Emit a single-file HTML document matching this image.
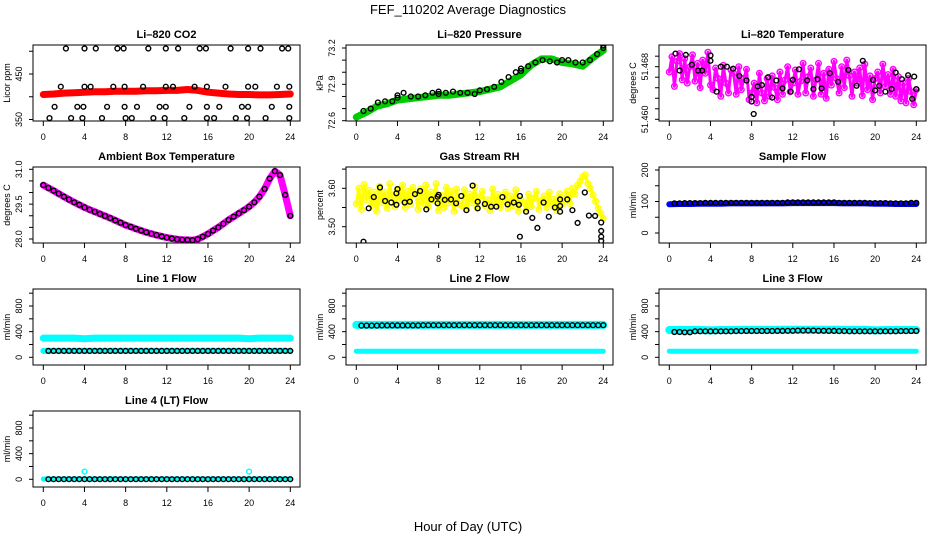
<!DOCTYPE html>
<html><head><meta charset="utf-8"><style>
body{margin:0;background:#fff}
svg{display:block;font-family:"Liberation Sans",sans-serif}
</style></head><body>
<svg id="chart" width="936" height="540" viewBox="0 0 936 540" xmlns="http://www.w3.org/2000/svg">
<rect x="0" y="0" width="936" height="540" fill="#fff"/>
<text x="468" y="14" text-anchor="middle" font-size="13">FEF_110202  Average Diagnostics</text>
<text x="468" y="531" text-anchor="middle" font-size="13">Hour of Day (UTC)</text>
</svg>
<script>
// ---- data ----
const xTicks=[0,4,8,12,16,20,24];
const hourly=[0,1,2,3,4,5,6,7,8,9,10,11,12,13,14,15,16,17,18,19,20,21,22,23,24];
const quarterHours=[];for(let i=0;i<=96;i++)quarterHours.push(i/4);
const halfHours=[];for(let i=0;i<=48;i++)halfHours.push(i/2);

const co2Red=[405,406,408,409,410,411,411,412,412,412,413,413,414,414,416,414,410,408,406,405,405,404,404,405,406];
const co2BlackHours=[2.2,4.0,5.1,7.2,7.8,10.2,11.9,13.1,15.2,15.8,18.2,19.9,21.1,23.2,23.8,
 1.7,4.0,4.6,6.8,7.9,9.7,11.9,12.6,14.7,15.9,17.7,19.9,20.6,22.7,23.9,
 1.1,3.3,3.9,6.2,7.9,9.1,11.3,11.9,14.2,15.9,17.1,19.3,19.9,22.2,23.9,
 0.6,2.7,3.8,5.7,8.0,8.6,10.7,11.8,13.7,15.9,16.6,18.7,19.8,21.6,23.9];
const co2BlackVals=[506,506,506,506,506,506,506,506,506,506,506,506,506,506,506,
 422,422,422,422,422,422,422,422,422,422,422,422,422,422,422,
 378,378,378,378,378,378,378,378,378,378,378,378,378,378,378,
 353,353,353,353,353,353,353,353,353,353,353,353,353,353,353];

const pressGreen=[72.63,72.67,72.72,72.74,72.77,72.78,72.79,72.80,72.81,72.81,72.82,72.83,72.84,72.86,72.88,72.93,72.98,73.06,73.11,73.11,73.08,73.07,73.05,73.12,73.18];
const pressBlackHours=[0.7,1.4,2.1,2.8,3.5,4.0,4.0,4.6,5.3,6.0,6.7,7.4,8.0,8.0,8.7,9.4,10.1,10.8,11.5,12.0,12.7,13.4,14.1,14.8,15.5,16.0,16.0,16.7,17.4,18.1,18.8,19.5,20.0,20.6,21.3,22.0,22.7,23.4,24.0,24.0];
const pressBlackVals=[72.68,72.70,72.75,72.76,72.76,72.81,72.79,72.83,72.80,72.80,72.81,72.83,72.84,72.82,72.83,72.84,72.83,72.83,72.82,72.85,72.86,72.88,72.92,72.96,73.00,73.03,73.01,73.05,73.08,73.10,73.09,73.08,73.10,73.10,73.08,73.08,73.10,73.15,73.20,73.22];

// Li-820 temperature, in units of 0.0001 degC above 51.460
const tempMagenta=[72,95,50,88,100,60,92,55,80,
 98,58,85,48,90,70,102,52, 45,78,62,35,82,55,40,75, 70,38,80,45,62,76,30,40,
 55,25,70,40,28,62,35,66, 48,30,72,38,60,80,42,55, 75,38,58,85,40,65,78,35,
 60,85,38,70,32,76,52,88, 62,40,80,48,90,66,35,72, 55,78,36,84,45,66,30,62,
 72,40,84,50,68,38,76,35, 65,28,55,25,62,42,22,45];
const tempBlackHours=[0.6,1.0,1.6,2.2,2.8,3.2,4.0,4.0,4.6,5.0,5.6,6.2,6.8,7.5,8.0,8.0,8.2,8.6,9.0,9.6,10.0,10.4,11.0,11.8,12.0,12.6,13.4,14.0,14.4,14.8,15.6,16.4,17.4,18.2,18.8,19.8,20.0,20.4,21.0,21.6,22.0,22.6,23.2,23.6,23.8,24.0];
const tempBlackVals=[100,74,98,83,74,74,97,89,42,80,80,77,66,59,34,27,8,50,52,64,33,59,47,42,60,76,59,46,61,47,70,57,75,51,89,60,44,51,42,46,71,61,67,31,65,46];

const ambient=[30.32,30.2,30.08,29.95,29.82,29.7,29.58,29.47,29.36,29.26,29.17,29.08,28.99,28.9,28.8,28.7,28.6,28.52,28.44,28.36,28.29,28.23,28.17,28.11,28.06,28.02,27.99,27.97,27.96,27.95,27.99,28.1,28.22,28.36,28.5,28.66,28.82,28.96,29.1,29.24,29.39,29.58,29.82,30.15,30.6,30.92,30.75,29.9,29.0];

// Gas stream RH, in units of 0.001 above 3.50
const rhYellow=[60,100,45,110,70,95,55,90,40,
 105,62,90,48,112,75,52,98, 68,108,50,92,58,102,85,45, 98,60,108,52,90,70,112,42,
 82,50,102,62,92,40,98,58, 55,96,45,85,62,104,48,78, 92,55,70,42,98,58,84,50,
 66,90,48,80,55,96,40,72, 62,42,85,52,74,92,45,68, 80,50,90,55,72,42,86,58,
 72,92,60,100,85,108,118,130, 135,112,100,82,66,48,35,22];
const rhBlackHours=[0.7,1.2,1.7,2.3,2.8,3.4,3.9,3.9,4.0,4.7,5.2,5.7,6.2,6.8,7.3,7.9,7.9,8.0,8.6,9.2,9.7,10.2,10.7,11.3,11.8,11.8,12.5,13.1,13.6,14.2,14.7,15.3,15.8,15.9,15.9,16.5,17.1,17.6,18.2,18.7,19.3,19.8,19.8,19.8,20.5,21.0,21.5,22.2,22.6,23.2,23.8,23.8,23.8,23.8];
const rhBlackVals=[-39,48,77,102,67,63,57,87,98,63,65,85,93,45,71,78,61,83,70,71,61,80,43,107,65,48,59,52,52,77,58,63,57,80,-26,39,23,-3,63,26,50,71,54,39,71,43,10,89,29,28,11,-11,-26,-37];

const sampleBlue=[91,92,92,93,93,93,94,94,94,94,94,94,95,95,95,95,95,94,94,94,93,93,92,92,92];
const sampleBlack=[92,94,95,95,96,96,96,96,96,96,96,96,97,97,97,97,97,96,96,96,95,95,94,94,96];

const line1High=[300,300,300,300,290,300,300,300,300,300,300,300,300,300,300,300,300,300,300,300,290,300,300,300,300];
const line1Low=[100,100,100,100,100,100,100,100,100,100,100,100,100,100,100,100,100,100,100,100,100,100,100,100,100];
const line1Black=[100,100,100,100,100,100,100,100,100,100,100,100,100,100,100,100,100,100,100,100,100,100,100,100,100];
const line2High=[505,505,505,505,505,505,505,505,505,505,505,505,505,505,505,505,505,505,505,505,505,505,505,505,505];
const line2Low=[95,95,95,95,95,95,95,95,95,95,95,95,95,95,95,95,95,95,95,95,95,95,95,95,95];
const line2Black=[495,495,495,497,498,498,498,500,500,500,500,500,500,500,500,500,500,500,500,500,500,500,500,500,500];
const line3High=[425,425,425,425,420,425,425,430,430,430,430,430,430,430,430,430,430,430,430,430,420,425,425,425,425];
const line3Low=[95,95,95,95,95,95,95,95,95,95,95,95,95,95,95,95,95,95,95,95,95,95,95,95,95];
const line3Black=[395,395,390,405,405,405,405,408,410,410,410,412,414,416,416,414,412,408,405,405,405,405,405,408,410];
const line4Cyan=[5,5,5,5,5,5,5,5,5,5,5,5,5,5,5,5,5,5,5,5,5,5,5,5,5];
const line4Black=[2,2,2,2,2,2,2,2,2,2,2,2,2,2,2,2,2,2,2,2,2,2,2,2,2];
const line4SpikeHours=[4,20];
const line4SpikeVals=[120,120];

// ---- layout ----
const NS="http://www.w3.org/2000/svg";
const svg=document.getElementById('chart');
const COLS=[33,346,659],ROWS=[45,167,289,411],PW=267,PH=76;
function mk(tag,attrs,parent){const e=document.createElementNS(NS,tag);for(const k in attrs)e.setAttribute(k,attrs[k]);(parent||svg).appendChild(e);return e;}

function panel(p){
  const L=COLS[p.col],T=ROWS[p.row];
  const g=mk('g',{});
  
  
  const xs=h=>L+10.3+h*247/24;
  const ys=v=>T+p.c[1]+(v-p.c[0])*(p.c[3]-p.c[1])/(p.c[2]-p.c[0]);
  const cid='clip'+p.name;
  const cp=mk('clipPath',{id:cid},g);mk('rect',{x:L,y:T,width:PW,height:PH},cp);
  const data=mk('g',{'clip-path':'url(#'+cid+')'},g);
  p.series.forEach(s=>{
    if(s.type==='line'){
      const pts=s.h.map((h,i)=>xs(h).toFixed(1)+','+ys(s.v[i]).toFixed(1)).join(' ');
      const pl=mk('polyline',{points:pts,fill:'none',stroke:s.color,'stroke-width':s.w,'stroke-linejoin':'round','stroke-linecap':'round'},data);
      
      
    } else {
      s.h.forEach((h,i)=>{
        const c=mk('circle',{cx:xs(h).toFixed(1),cy:ys(s.v[i]).toFixed(1),r:s.r||2.4,fill:'none',stroke:s.color,'stroke-width':1.4},data);
        
        
      });
    }
  });
  const box=mk('rect',{x:L,y:T,width:PW,height:PH,fill:'none',stroke:'#000','stroke-width':1},g);
  
  
  const tt=mk('text',{x:L+PW/2,y:T-7,'text-anchor':'middle','font-size':11,'font-weight':'bold'},g);
  tt.textContent=p.title;
  
  
  mk('line',{x1:xs(0),x2:xs(24),y1:T+PH,y2:T+PH,stroke:'#000'},g);
  xTicks.forEach(t=>{
    mk('line',{x1:xs(t),x2:xs(t),y1:T+PH,y2:T+PH+5,stroke:'#000'},g);
    const lb=mk('text',{x:xs(t),y:T+PH+19,'text-anchor':'middle','font-size':9},g);
    lb.textContent=t;
    
    
  });
  p.yt.forEach((t,i)=>{
    const y=ys(t);
    mk('line',{x1:L-4,x2:L,y1:y,y2:y,stroke:'#000'},g);
    if(p.yl[i]){
      const lb=mk('text',{x:L-11,y:y,'text-anchor':'middle','font-size':9,transform:'rotate(-90 '+(L-11)+' '+y+')'},g);
      lb.textContent=p.yl[i];
      
      
    }
  });
  const yl=mk('text',{x:L-23,y:T+PH/2,'text-anchor':'middle','font-size':9,transform:'rotate(-90 '+(L-23)+' '+(T+PH/2)+')'},g);
  yl.textContent=p.ylab;
  
  
}
const off=(arr,base,unit)=>arr.map(v=>base+v*unit);
const flowT=[0,200,400,600,800,1000],flowL=['0','','400','','800',''];

panel({name:'co2-panel',col:0,row:0,title:'Li\u2013820 CO2',ylab:'Licor ppm',c:[350,74.5,450,29],
 yt:[350,400,450,500],yl:['350','','450',''],
 series:[{type:'line',h:hourly,v:co2Red,color:'#ff0000',w:7,name:'co2-red-series'},
 {type:'pts',h:co2BlackHours,v:co2BlackVals,color:'#000',name:'co2-black-point'}]});
panel({name:'pressure-panel',col:1,row:0,title:'Li\u2013820 Pressure',ylab:'kPa',c:[72.6,75.7,73.2,3],
 yt:[72.6,72.7,72.8,72.9,73.0,73.1,73.2],yl:['72.6','','','72.9','','','73.2'],
 series:[{type:'line',h:hourly,v:pressGreen,color:'#00cc00',w:7,name:'pressure-green-series'},
 {type:'pts',h:pressBlackHours,v:pressBlackVals,color:'#000',name:'pressure-black-point'}]});
panel({name:'temperature-panel',col:2,row:0,title:'Li\u2013820 Temperature',ylab:'degrees C',c:[51.460,74.3,51.468,21.7],
 yt:[51.460,51.4616,51.4632,51.4648,51.4664,51.468,51.4696],yl:['51.460','','','','','51.468',''],
 series:[{type:'line',h:quarterHours,v:off(tempMagenta,51.460,0.0001),color:'#ff00ff',w:3,name:'temp-magenta-trace'},
 {type:'pts',h:quarterHours,v:off(tempMagenta,51.460,0.0001),color:'#ff00ff',r:2.8,name:'temp-magenta-point'},
 {type:'pts',h:tempBlackHours,v:off(tempBlackVals,51.460,0.0001),color:'#000',name:'temp-black-point'}]});
panel({name:'ambient-panel',col:0,row:1,title:'Ambient Box Temperature',ylab:'degrees C',c:[28,72,31,2.3],
 yt:[28,28.5,29,29.5,30,30.5,31],yl:['28.0','','','29.5','','','31.0'],
 series:[{type:'line',h:halfHours,v:ambient,color:'#ff00ff',w:7,name:'ambient-magenta-series'},
 {type:'pts',h:halfHours,v:ambient,color:'#000',name:'ambient-black-point'}]});
panel({name:'rh-panel',col:1,row:1,title:'Gas Stream RH',ylab:'percent',c:[3.50,59.7,3.60,21.3],
 yt:[3.50,3.55,3.60,3.65],yl:['3.50','','3.60',''],
 series:[{type:'line',h:quarterHours,v:off(rhYellow,3.5,0.001),color:'#ffff00',w:3,name:'rh-yellow-trace'},
 {type:'pts',h:quarterHours,v:off(rhYellow,3.5,0.001),color:'#ffff00',r:2.8,name:'rh-yellow-point'},
 {type:'pts',h:rhBlackHours,v:off(rhBlackVals,3.5,0.001),color:'#000',name:'rh-black-point'}]});
panel({name:'sample-flow-panel',col:2,row:1,title:'Sample Flow',ylab:'ml/min',c:[0,66,200,3],
 yt:[0,50,100,150,200],yl:['0','','100','','200'],
 series:[{type:'line',h:hourly,v:sampleBlue,color:'#0000ff',w:6,name:'sample-blue-series'},
 {type:'pts',h:halfHours.slice(1),v:halfHours.slice(1).map(h=>sampleBlack[Math.round(h)]),color:'#000',name:'sample-black-point'}]});
panel({name:'line1-panel',col:0,row:2,title:'Line 1 Flow',ylab:'ml/min',c:[0,68.3,800,17],yt:flowT,yl:flowL,
 series:[{type:'line',h:hourly,v:line1High,color:'#00ffff',w:7,name:'line1-high-series'},
 {type:'line',h:hourly,v:line1Low,color:'#00ffff',w:6,name:'line1-low-series'},
 {type:'pts',h:halfHours.slice(1),v:halfHours.slice(1).map(h=>line1Black[Math.round(h)]),color:'#000',name:'line1-black-point'}]});
panel({name:'line2-panel',col:1,row:2,title:'Line 2 Flow',ylab:'ml/min',c:[0,68.3,800,17],yt:flowT,yl:flowL,
 series:[{type:'line',h:hourly,v:line2High,color:'#00ffff',w:8,name:'line2-high-series'},
 {type:'line',h:hourly,v:line2Low,color:'#00ffff',w:5,name:'line2-low-series'},
 {type:'pts',h:halfHours.slice(1),v:halfHours.slice(1).map(h=>line2Black[Math.round(h)]),color:'#000',name:'line2-black-point'}]});
panel({name:'line3-panel',col:2,row:2,title:'Line 3 Flow',ylab:'ml/min',c:[0,68.3,800,17],yt:flowT,yl:flowL,
 series:[{type:'line',h:hourly,v:line3High,color:'#00ffff',w:8,name:'line3-high-series'},
 {type:'line',h:hourly,v:line3Low,color:'#00ffff',w:5,name:'line3-low-series'},
 {type:'pts',h:halfHours.slice(1),v:halfHours.slice(1).map(h=>line3Black[Math.round(h)]),color:'#000',name:'line3-black-point'}]});
panel({name:'line4-panel',col:0,row:3,title:'Line 4 (LT) Flow',ylab:'ml/min',c:[0,68.3,800,17],yt:flowT,yl:flowL,
 series:[{type:'line',h:hourly,v:line4Cyan,color:'#00ffff',w:5,name:'line4-cyan-series'},
 {type:'pts',h:line4SpikeHours,v:line4SpikeVals,color:'#00ffff',name:'line4-spike-point'},
 {type:'pts',h:halfHours.slice(1),v:halfHours.slice(1).map(h=>line4Black[Math.round(h)]),color:'#000',name:'line4-black-point'}]});
</script>
</body></html>
